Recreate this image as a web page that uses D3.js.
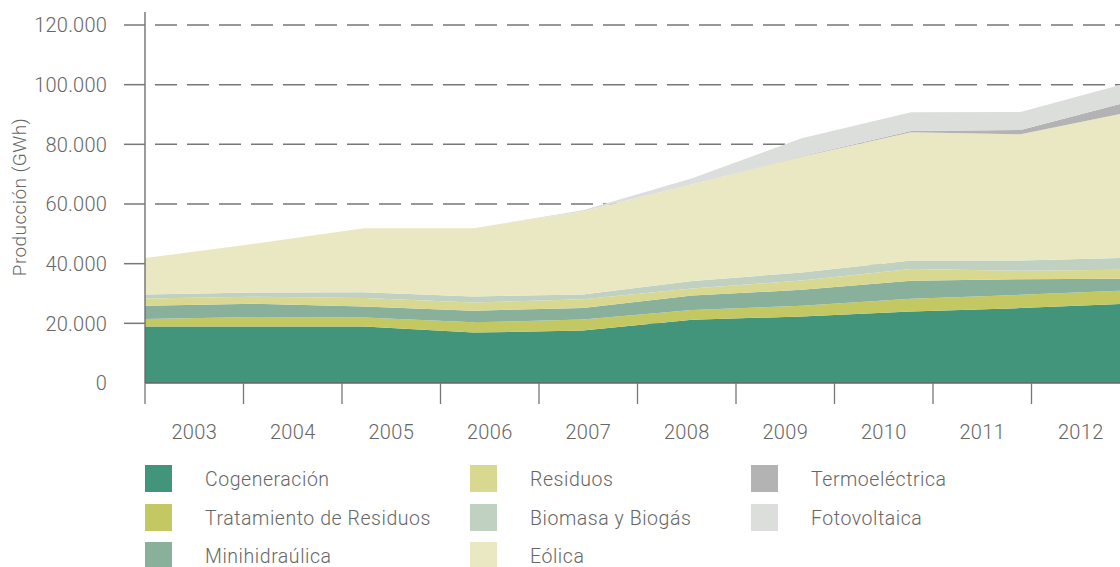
<!DOCTYPE html>
<html><head><meta charset="utf-8">
<script src="https://cdn.jsdelivr.net/npm/d3@7"></script>
<style>
html,body{margin:0;padding:0;background:#fff;}
svg{display:block;font-family:Roboto,"DejaVu Sans",sans-serif;font-weight:300;}
</style></head>
<body><svg id="c" width="1120" height="567"></svg>
<script>
const years = ["2003","2004","2005","2006","2007","2008","2009","2010","2011","2012"];
const cogeneracion = [18950,18950,18950,16900,17600,21200,22300,24000,25100,26600];
const tratamiento  = [2480,3150,3010,3450,3650,3250,3580,4250,4450,4450];
const minihidraulica = [4450,4450,3680,3900,3850,4860,5360,6030,5260,3890];
const residuos     = [2450,2340,2810,2700,3010,2340,3110,3920,2780,3050];
const biomasa      = [1340,1450,2010,2050,1540,2550,2680,2880,3450,3950];
const eolica       = [12190,16310,21430,22900,27860,32390,38850,43000,42330,48900];
const termoelectrica = [0,0,0,0,0,0,100,420,1440,3550];
const fotovoltaica = [0,0,0,0,400,2010,6060,6260,6030,6400];
const seriesNames = ["Cogeneración","Tratamiento de Residuos","Minihidraúlica","Residuos","Biomasa y Biogás","Eólica","Termoeléctrica","Fotovoltaica"];
const seriesValues = [cogeneracion,tratamiento,minihidraulica,residuos,biomasa,eolica,termoelectrica,fotovoltaica];
const colors = ["#42947a","#c3c862","#89b09b","#d8d891","#c0d1c2","#e9e8c2","#b3b3b3","#dcdedb"];
const yTicks = [0,20000,40000,60000,80000,100000,120000];

(function(){
const svg = d3.select("#c");
const mLeft = 145, mRight = 1130, mTop = 25, mBottom = 383;

const table = years.map((yr,i)=>{const o={year:yr}; seriesNames.forEach((n,k)=>o[n]=seriesValues[k][i]); return o;});
const stack = d3.stack().keys(seriesNames)(table);

const xPt = d3.scalePoint().domain(years).range([mLeft,mRight]);
const xBand = d3.scaleBand().domain(years).range([mLeft,mRight]).padding(0);
const y = d3.scaleLinear().domain([0,120000]).range([mBottom,mTop]);

const loc = d3.formatLocale({decimal:",",thousands:".",grouping:[3],currency:["",""]});
const fmt = loc.format(",d");

// grid
svg.append("g").selectAll("line").data(yTicks.filter(d=>d>0)).join("line")
  .attr("x1",mLeft).attr("x2",1120).attr("y1",d=>y(d)).attr("y2",d=>y(d))
  .attr("stroke","#777").attr("stroke-width",1.5).attr("stroke-dasharray","22,10").attr("stroke-dashoffset",-10);

// areas
const area = d3.area().x(d=>xPt(d.data.year)).y0(d=>y(d[0])).y1(d=>y(d[1]));
svg.append("g").selectAll("path").data(stack).join("path")
  .attr("d",area).attr("fill",(d,i)=>colors[i]);

// y axis
svg.append("line").attr("x1",mLeft).attr("x2",mLeft).attr("y1",12).attr("y2",mBottom)
  .attr("stroke","#666").attr("stroke-width",1.3);
svg.append("g").selectAll("line").data(yTicks.filter(d=>d>0)).join("line")
  .attr("x1",124).attr("x2",mLeft).attr("y1",d=>y(d)).attr("y2",d=>y(d))
  .attr("stroke","#777").attr("stroke-width",1.5);
svg.append("g").selectAll("text").data(yTicks).join("text")
  .attr("x",107).attr("y",d=>y(d)).attr("dy","0.36em").attr("text-anchor","end")
  .attr("font-size",20).attr("letter-spacing","0.2").attr("fill","#666").text(d=>fmt(d));
svg.append("text").attr("transform","translate(26,197) rotate(-90)").attr("text-anchor","middle")
  .attr("font-size",19).attr("letter-spacing","0.4").attr("fill","#666").text("Producción (GWh)");

// x axis
svg.append("line").attr("x1",mLeft).attr("x2",1120).attr("y1",mBottom).attr("y2",mBottom)
  .attr("stroke","#666").attr("stroke-width",1.3);
svg.append("g").selectAll("line").data(years).join("line")
  .attr("x1",d=>xBand(d)).attr("x2",d=>xBand(d)).attr("y1",mBottom).attr("y2",404)
  .attr("stroke","#777").attr("stroke-width",1.3);
svg.append("g").selectAll("text").data(years).join("text")
  .attr("x",d=>xBand(d)+xBand.bandwidth()/2).attr("y",439).attr("text-anchor","middle")
  .attr("font-size",20).attr("letter-spacing","0.3").attr("fill","#666").text(d=>d);

// legend
const colX = [145,470,751], textX=[205,530,811], rowY=[465,504,542];
const lg = svg.append("g").selectAll("g").data(seriesNames).join("g");
lg.append("rect").attr("x",(d,i)=>colX[Math.floor(i/3)]).attr("y",(d,i)=>rowY[i%3])
  .attr("width",27).attr("height",27).attr("fill",(d,i)=>colors[i]);
lg.append("text").attr("x",(d,i)=>textX[Math.floor(i/3)]).attr("y",(d,i)=>rowY[i%3]+21)
  .attr("font-size",19.5).attr("fill","#666").attr("letter-spacing","0.55").text(d=>d);
})();
</script></body></html>
